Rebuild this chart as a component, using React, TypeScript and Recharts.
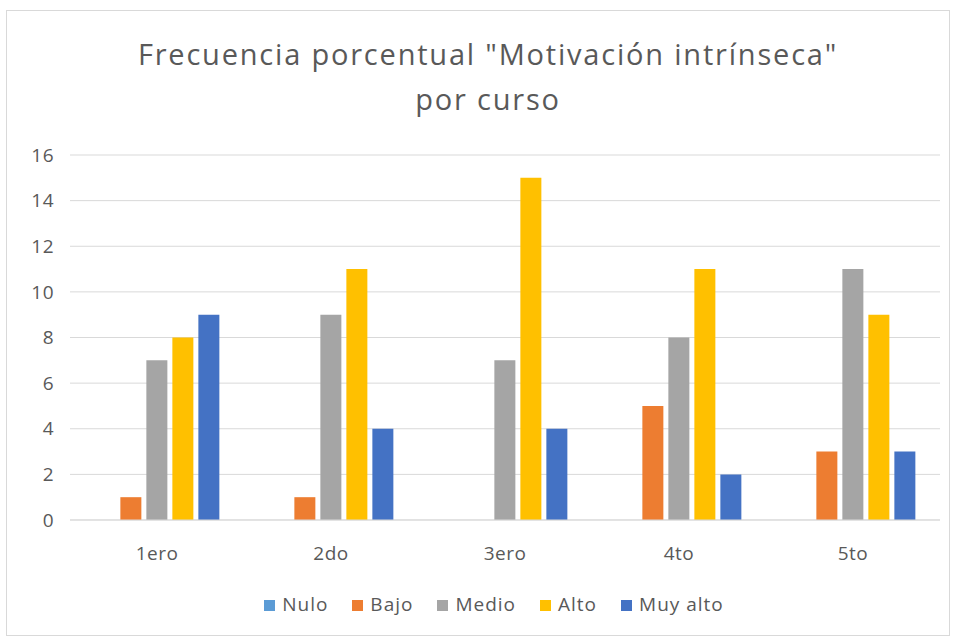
import React from "react"
import { Bar, BarChart, CartesianGrid, Legend, XAxis, YAxis } from "recharts"

const cursos = ["1ero", "2do", "3ero", "4to", "5to"]
const nulo = [0, 0, 0, 0, 0]
const bajo = [1, 1, 0, 5, 3]
const medio = [7, 9, 7, 8, 11]
const alto = [8, 11, 15, 11, 9]
const muyAlto = [9, 4, 4, 2, 3]
const yTicks = [0, 2, 4, 6, 8, 10, 12, 14, 16]
const seriesOrder = ["Nulo", "Bajo", "Medio", "Alto", "Muy alto"]

const data = cursos.map((c, i) => ({
  curso: c,
  Nulo: nulo[i],
  Bajo: bajo[i],
  Medio: medio[i],
  Alto: alto[i],
  "Muy alto": muyAlto[i],
}))

const font = "'Open Sans', sans-serif"
const txt = "#595959"

const App = () => {
  return (
    <div
      style={{
        position: "absolute",
        left: 6,
        top: 10,
        width: 942,
        height: 624,
        border: "1px solid #d9d9d9",
        background: "#fff",
        fontFamily: font,
      }}
    >
      <div
        style={{
          position: "absolute",
          top: 20,
          left: 0,
          width: 962,
          textAlign: "center",
          fontSize: 29,
          letterSpacing: 1.8,
          lineHeight: "45px",
          color: txt,
        }}
      >
        Frecuencia porcentual "Motivación intrínseca"
        <br />
        por curso
      </div>
      <BarChart
        width={942}
        height={624}
        data={data}
        margin={{ top: 144, right: 9, left: 3, bottom: 18 }}
        barCategoryGap="14%"
        barGap={5}
      >
        <CartesianGrid vertical={false} stroke="#d9d9d9" />
        <XAxis
          dataKey="curso"
          axisLine={{ stroke: "#d9d9d9" }}
          tickLine={false}
          tickMargin={21}
          tick={{ fill: txt, fontSize: 19, fontFamily: font, letterSpacing: 0.5 }}
          height={71}
        />
        <YAxis
          width={60}
          domain={[0, 16]}
          ticks={yTicks}
          axisLine={false}
          tickLine={false}
          tickMargin={10}
          tick={{ fill: txt, fontSize: 19, fontFamily: font, letterSpacing: 0.5 }}
        />
        <Legend
          verticalAlign="bottom"
          iconType="square"
          iconSize={11}
          itemSorter={(item: any) => seriesOrder.indexOf(item.value)}
          wrapperStyle={{ left: 34, fontSize: 19, fontFamily: font, color: txt, letterSpacing: 1 }}
          formatter={(v) => (
            <span style={{ color: txt, paddingLeft: 3, paddingRight: 14 }}>{v}</span>
          )}
        />
        <Bar dataKey="Nulo" fill="#5b9bd5" isAnimationActive={false} />
        <Bar dataKey="Bajo" fill="#ed7d31" isAnimationActive={false} />
        <Bar dataKey="Medio" fill="#a5a5a5" isAnimationActive={false} />
        <Bar dataKey="Alto" fill="#ffc000" isAnimationActive={false} />
        <Bar dataKey="Muy alto" fill="#4472c4" isAnimationActive={false} />
      </BarChart>
    </div>
  )
}

export default App
